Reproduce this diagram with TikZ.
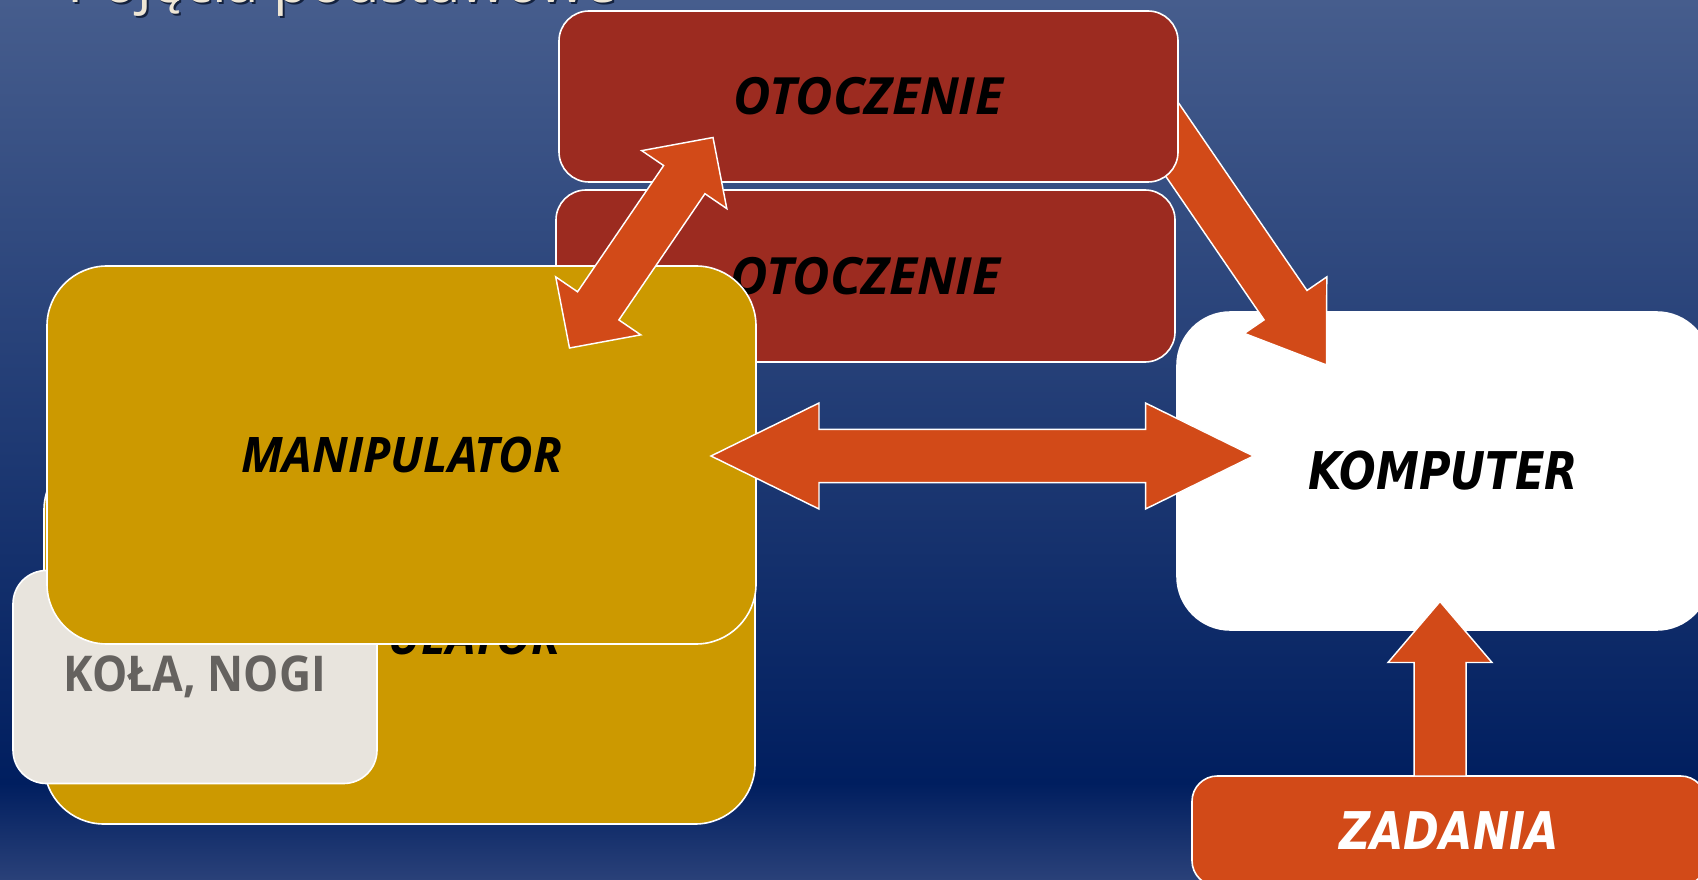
\documentclass[tikz,border=0pt]{standalone}
\usepackage{fontspec}
\usetikzlibrary{calc}
\setmainfont{Open Sans}
\newfontfamily\osfont{Open Sans}
\newfontfamily\osmanip[FakeStretch=0.965]{Open Sans}
\newfontfamily\osnarrow[FakeStretch=0.9]{Open Sans}
\newfontfamily\dvfont[FakeStretch=0.83]{DejaVu Sans}
\definecolor{bgtop}{HTML}{465D8D}
\definecolor{bgdark}{HTML}{001E5F}
\definecolor{bgbot}{HTML}{2A4179}
\definecolor{otoc}{HTML}{9C2B20}
\definecolor{gold}{HTML}{CC9900}
\definecolor{paper}{HTML}{E8E4DD}
\definecolor{orng}{HTML}{D24A18}
\definecolor{titlec}{HTML}{EEE6D5}
\definecolor{graytxt}{HTML}{65625F}
\newcommand\otocfont{\osfont\bfseries\itshape\fontsize{38.5}{42}\selectfont}
\newcommand\manipfont{\osmanip\bfseries\itshape\fontsize{36.75}{40}\selectfont}
\newcommand\kompfont{\dvfont\bfseries\itshape\fontsize{39}{42}\selectfont}
\newcommand\kolafont{\osnarrow\bfseries\fontsize{37}{40}\selectfont}
\newcommand\titlefont{\osfont\fontsize{43.5}{48}\selectfont}
% block arrow: tail, tip, head length, head half-width, shaft half-width
\newcommand\blockarrow[5]{%
  \coordinate (bab) at ($(#2)!#3!(#1)$);
  \draw[arrowshape] ($(#1)!#5!90:(#2)$) -- ($(bab)!#5!90:(#2)$) -- ($(bab)!#4!90:(#2)$) -- (#2)
    -- ($(bab)!#4!-90:(#2)$) -- ($(bab)!#5!-90:(#2)$) -- ($(#1)!#5!-90:(#2)$) -- cycle;}
% double block arrow: tip 1, tip 2, head length, head half-width, shaft half-width
\newcommand\dblarrow[5]{%
  \coordinate (dbA) at ($(#1)!#3!(#2)$);
  \coordinate (dbB) at ($(#2)!#3!(#1)$);
  \draw[arrowshape] (#1) -- ($(dbA)!#4!90:(#2)$) -- ($(dbA)!#5!90:(#2)$) -- ($(dbB)!#5!-90:(#1)$)
    -- ($(dbB)!#4!-90:(#1)$) -- (#2) -- ($(dbB)!#4!90:(#1)$) -- ($(dbB)!#5!90:(#1)$)
    -- ($(dbA)!#5!-90:(#2)$) -- ($(dbA)!#4!-90:(#2)$) -- cycle;}
\tikzset{
  rbox/.style={draw=white, line width=1.2pt, rounded corners=#1, inner sep=0pt},
  arrowshape/.style={fill=orng, draw=white, line width=1.1pt, line join=miter},
}
\begin{document}
\begin{tikzpicture}[x=0.75pt,y=-0.75pt]
\useasboundingbox (0,0) rectangle (1698,880);
% background
\shade[top color=bgtop, bottom color=bgdark] (0,0) rectangle (1698,784);
\shade[top color=bgdark, bottom color=bgbot] (0,783) rectangle (1698,880);
% title (cut by the top edge)
\node[anchor=base west, inner sep=0pt, text=black!70!bgdark, opacity=0.7] (titleshadow) at (69,5) {\titlefont Pojęcia podstawowe};
\node[anchor=base west, inner sep=0pt, text=titlec] (title) at (67,3) {\titlefont Pojęcia podstawowe};
% back manipulator and wheels
\node[rbox=45pt, fill=gold, minimum width=533.25pt, minimum height=280.5pt] (manipB) at (399.5,637) {\manipfont MANIPULATOR};
\node[rbox=25pt, fill=paper, minimum width=273pt, minimum height=159.75pt] (kola) at (195,677) {\kolafont\color{graytxt}KOŁA, NOGI};
% environment boxes and computer
\node[rbox=22.5pt, fill=otoc, minimum width=464.25pt, minimum height=129pt] (otoc2) at (865.5,276) {\otocfont OTOCZENIE};
\node[rbox=40pt, fill=white, minimum width=399.75pt, minimum height=238.5pt] (komp) at (1443.5,471) {\kompfont KOMPUTER};
\coordinate (dTail) at (1132,81);
\coordinate (dTip) at (1326.5,365);
\blockarrow{dTail}{dTip}{54.4pt}{37.5pt}{19.5pt}
\node[rbox=22.5pt, fill=otoc, minimum width=464.25pt, minimum height=128.25pt] (otoc1) at (868.5,96.5) {\otocfont OTOCZENIE};
\node[rbox=45pt, fill=gold, minimum width=531.75pt, minimum height=283.5pt] (manipF) at (401.5,455) {\manipfont MANIPULATOR};
\node[rbox=19pt, fill=orng, minimum width=385.5pt, minimum height=82.5pt] (zad) at (1449,831) {\kompfont\color{white}ZADANIA};
% arrows
\coordinate (hL) at (711,456);
\coordinate (hR) at (1253.5,456);
\dblarrow{hL}{hR}{81pt}{39.75pt}{19.9pt}
\coordinate (uTail) at (1440,776);
\coordinate (uTip) at (1440,601.5);
\blockarrow{uTail}{uTip}{45.75pt}{39pt}{19.5pt}
\coordinate (mU) at (713,137.5);
\coordinate (mL) at (569.5,348);
\dblarrow{mU}{mL}{38.25pt}{38.6pt}{18.75pt}
\end{tikzpicture}
\end{document}
